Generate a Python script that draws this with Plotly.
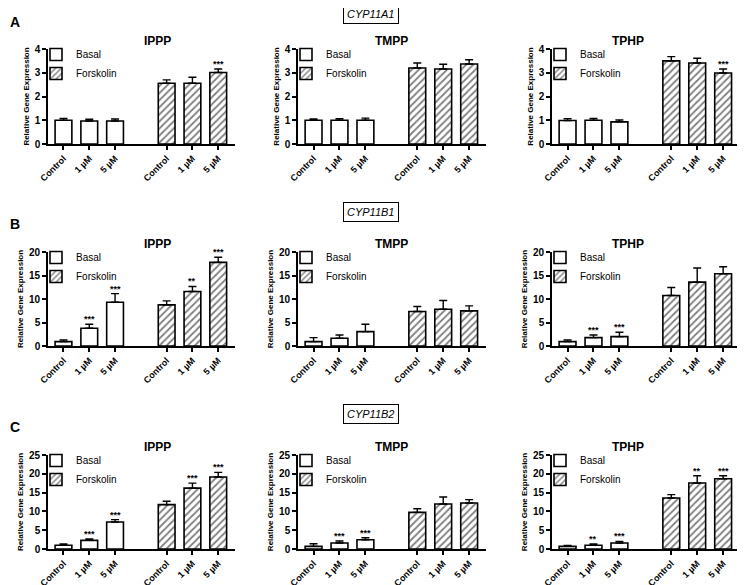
import plotly.graph_objects as go

# ---------------- data ----------------
doses = ["Control", "1 µM", "5 µM"]
conditions = ["Basal", "Forskolin"]
chemicals = ["IPPP", "TMPP", "TPHP"]
genes = ["CYP11A1", "CYP11B1", "CYP11B2"]
panel_letters = ["A", "B", "C"]
y_max = [4, 20, 25]
y_step = [1, 5, 5]

# CYP11A1 (rows: IPPP, TMPP, TPHP)
a1_basal_mean = [[1.00, 0.97, 0.97], [1.00, 1.00, 1.00], [0.99, 1.00, 0.93]]
a1_basal_err = [[0.08, 0.07, 0.08], [0.06, 0.07, 0.09], [0.08, 0.08, 0.08]]
a1_forsk_mean = [[2.56, 2.56, 3.01], [3.20, 3.16, 3.37], [3.50, 3.41, 2.99]]
a1_forsk_err = [[0.14, 0.25, 0.15], [0.21, 0.20, 0.18], [0.18, 0.20, 0.17]]
a1_basal_sig = [["", "", ""], ["", "", ""], ["", "", ""]]
a1_forsk_sig = [["", "", "***"], ["", "", ""], ["", "", "***"]]

# CYP11B1
b1_basal_mean = [[0.93, 3.77, 9.30], [0.93, 1.64, 3.06], [0.93, 1.78, 2.00]]
b1_basal_err = [[0.35, 0.85, 1.85], [0.85, 0.70, 1.57], [0.36, 0.57, 0.93]]
b1_forsk_mean = [[8.75, 11.60, 17.80], [7.33, 7.83, 7.47], [10.75, 13.60, 15.37]]
b1_forsk_err = [[0.85, 1.07, 1.07], [1.07, 1.85, 1.07], [1.70, 3.00, 1.50]]
b1_basal_sig = [["", "***", "***"], ["", "", ""], ["", "***", "***"]]
b1_forsk_sig = [["", "**", "***"], ["", "", ""], ["", "", ""]]

# CYP11B2
b2_basal_mean = [[0.98, 2.30, 7.18], [0.70, 1.60, 2.48], [0.70, 0.98, 1.60]]
b2_basal_err = [[0.35, 0.35, 0.62], [0.70, 0.53, 0.53], [0.27, 0.35, 0.44]]
b2_forsk_mean = [[11.80, 16.20, 19.15], [9.75, 11.97, 12.23], [13.56, 17.55, 18.70]]
b2_forsk_err = [[0.90, 1.33, 1.24], [0.97, 1.86, 0.90], [0.89, 1.95, 0.80]]
b2_basal_sig = [["", "***", "***"], ["", "***", "***"], ["", "**", "***"]]
b2_forsk_sig = [["", "***", "***"], ["", "", ""], ["", "**", "***"]]

basal_mean = [a1_basal_mean, b1_basal_mean, b2_basal_mean]
basal_err = [a1_basal_err, b1_basal_err, b2_basal_err]
forsk_mean = [a1_forsk_mean, b1_forsk_mean, b2_forsk_mean]
forsk_err = [a1_forsk_err, b1_forsk_err, b2_forsk_err]
basal_sig = [a1_basal_sig, b1_basal_sig, b2_basal_sig]
forsk_sig = [a1_forsk_sig, b1_forsk_sig, b2_forsk_sig]

# ---------------- layout geometry ----------------
# the page body has an 8 px margin, so the figure is drawn 8 px in from the
# window's corner; sizes and positions below are given in window pixels.
WIN_W, WIN_H, OFF = 745, 585, 8
W, H = WIN_W - OFF, WIN_H - OFF
FONT = "Liberation Sans, Arial, sans-serif"
col_px = [(48, 235), (298, 486), (552, 740)]
row_px = [(49, 144), (252, 346), (455, 549)]
gene_y_px = [14, 212, 414]
letter_y_px = [22, 224, 427]

basal_pos = [0, 1, 2]
forsk_pos = [4, 5, 6]
tick_vals = basal_pos + forsk_pos
tick_text = doses + doses


def fx(px):
    return (px - OFF) / W


def fy(px):
    return 1 - (px - OFF) / H


fig = go.Figure()
layout = dict(
    width=W, height=H, margin=dict(l=0, r=0, t=0, b=0, autoexpand=False),
    paper_bgcolor="white", plot_bgcolor="white",
    font=dict(family=FONT, color="black"),
    barmode="overlay", annotations=[],
)

for r in range(3):
    for c in range(3):
        k = r * 3 + c + 1
        sfx = "" if k == 1 else str(k)
        xref, yref = "x" + sfx, "y" + sfx
        leg = "legend" + sfx
        err_style = dict(type="data", symmetric=False, color="black",
                         thickness=1.4, width=4)
        fig.add_trace(go.Bar(
            x=basal_pos, y=basal_mean[r][c], name=conditions[0],
            width=0.65, xaxis=xref, yaxis=yref, legend=leg,
            marker=dict(color="white", line=dict(color="black", width=1.6)),
            error_y=dict(array=basal_err[r][c], arrayminus=[0, 0, 0], **err_style),
        ))
        fig.add_trace(go.Bar(
            x=forsk_pos, y=forsk_mean[r][c], name=conditions[1],
            width=0.65, xaxis=xref, yaxis=yref, legend=leg,
            marker=dict(color="white", line=dict(color="black", width=1.6),
                        pattern=dict(shape="/", size=5, solidity=0.35,
                                     fgcolor="black", bgcolor="white")),
            error_y=dict(array=forsk_err[r][c], arrayminus=[0, 0, 0], **err_style),
        ))
        x0, x1 = col_px[c]
        y0, y1 = row_px[r]
        layout["xaxis" + sfx] = dict(
            domain=[fx(x0), fx(x1)], anchor=yref, range=[-0.6, 6.65],
            tickvals=tick_vals, ticktext=tick_text, tickangle=-45,
            showline=True, linecolor="black", linewidth=1.6,
            ticks="outside", ticklen=4, tickwidth=1.5, tickcolor="black",
            showgrid=False, zeroline=False, automargin=False,
            tickfont=dict(size=9, family=FONT, weight=700),
        )
        layout["yaxis" + sfx] = dict(
            domain=[fy(y1), fy(y0)], anchor=xref, range=[0, y_max[r]],
            dtick=y_step[r], tick0=0,
            showline=True, linecolor="black", linewidth=1.6,
            ticks="outside", ticklen=4, tickwidth=1.5, tickcolor="black",
            showgrid=False, zeroline=False, automargin=False,
            tickfont=dict(size=10, family=FONT, weight=700),
            title=dict(text="Relative Gene Expression", standoff=4,
                       font=dict(size=8, family=FONT, weight=700)),
        )
        layout[leg] = dict(
            x=fx(x0 - 12), y=fy(y0 - 9), xanchor="left", yanchor="top",
            bgcolor="rgba(0,0,0,0)", font=dict(size=10, family=FONT),
            itemwidth=30, tracegroupgap=0,
        )
        # chemical title
        layout["annotations"].append(dict(
            text="<b>" + chemicals[c] + "</b>", xref="paper", yref="paper",
            x=fx((x0 + x1) / 2), y=fy(y0 - 8), yanchor="middle",
            showarrow=False, font=dict(size=12, family=FONT),
        ))
        # significance stars
        for i in range(3):
            for pos, mean, err, sig in (
                (basal_pos[i], basal_mean[r][c][i], basal_err[r][c][i], basal_sig[r][c][i]),
                (forsk_pos[i], forsk_mean[r][c][i], forsk_err[r][c][i], forsk_sig[r][c][i]),
            ):
                if sig:
                    layout["annotations"].append(dict(
                        text=sig, xref=xref, yref=yref, x=pos, y=mean + err,
                        yanchor="bottom", showarrow=False, yshift=-2,
                        font=dict(size=9, family=FONT, weight=700),
                    ))

for r in range(3):
    layout["annotations"].append(dict(
        text="<i>" + genes[r] + "</i>", xref="paper", yref="paper",
        x=fx(371), y=fy(gene_y_px[r]), xanchor="center", yanchor="middle",
        showarrow=False, bordercolor="black", borderwidth=1, borderpad=3,
        font=dict(size=11, family=FONT),
    ))
    layout["annotations"].append(dict(
        text="<b>" + panel_letters[r] + "</b>", xref="paper", yref="paper",
        x=fx(OFF), y=fy(letter_y_px[r]), xanchor="left", yanchor="middle",
        showarrow=False, font=dict(size=14, family=FONT),
    ))

fig.update_layout(**layout)
fig.write_html("out.html")
